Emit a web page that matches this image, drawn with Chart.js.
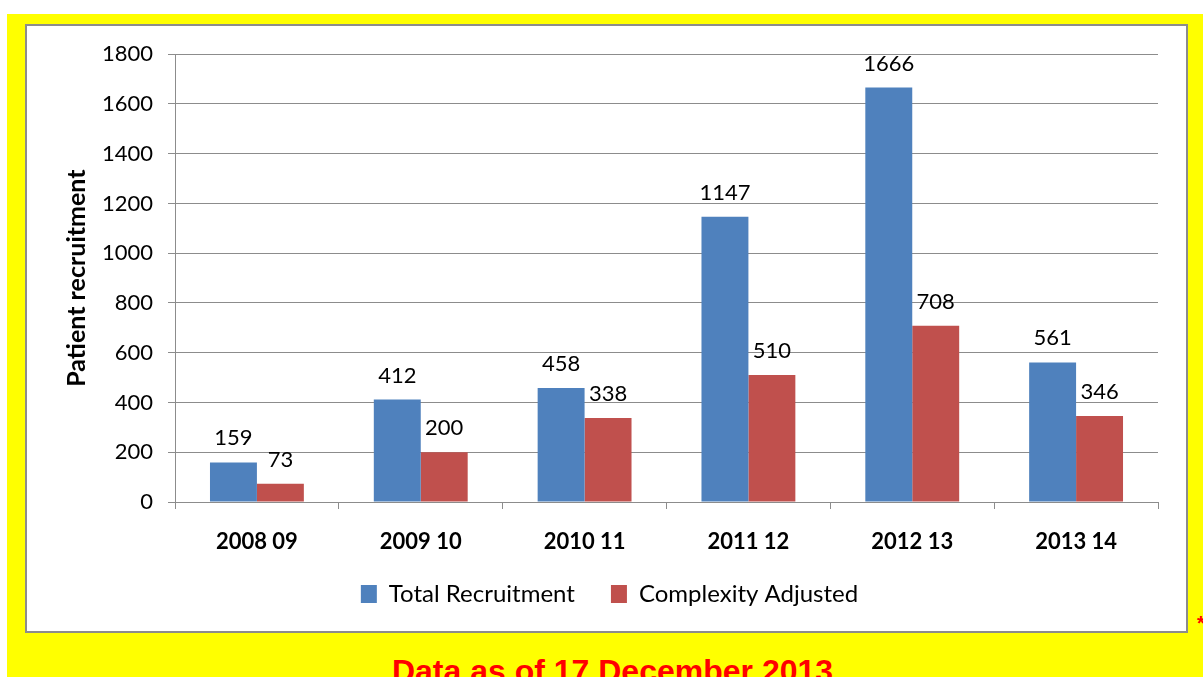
<!DOCTYPE html>
<html>
<head>
<meta charset="utf-8">
<script src="https://cdn.jsdelivr.net/npm/chart.js@4.4.0/dist/chart.umd.min.js"></script>
<style>
  html, body { margin: 0; padding: 0; background: #fff; width: 1203px; height: 677px; overflow: hidden; }
  #frame { position: absolute; left: 7px; top: 14px; width: 1196px; height: 663px; background: #ffff00; }
  #box { position: absolute; left: 25px; top: 24px; width: 1159px; height: 605px; background: #fff; border: 2px solid #8c8c8c; }
  #note { position: absolute; left: 0; width: 1225px; top: 653px; line-height: 32px; text-align: center; font: bold 32px "Liberation Sans", Arial, sans-serif; color: #ff0000; white-space: nowrap; }
  #star { position: absolute; left: 1197px; top: 612px; font: bold 20px "Liberation Sans", Arial, sans-serif; color: #ff0000; }
</style>
</head>
<body>
<div id="frame"></div>
<div id="box"><canvas id="recruitChart" width="1159" height="605"></canvas></div>
<div id="note">Data as of 17 December 2013</div>
<div id="star">*</div>
<script>
// financial years and recruitment figures
const years = ['2008 09', '2009 10', '2010 11', '2011 12', '2012 13', '2013 14'];
const totalRecruitment = [159, 412, 458, 1147, 1666, 561];
const complexityAdjusted = [73, 200, 338, 510, 708, 346];
const yTicks = [0, 200, 400, 600, 800, 1000, 1200, 1400, 1600, 1800];

const FONT = 'Lato, "Open Sans", sans-serif';

// value labels above each bar
const barValues = {
    id: 'barValues',
    afterDatasetsDraw(chart) {
        const ctx = chart.ctx;
        ctx.save();
        ctx.font = '22px ' + FONT;
        ctx.fillStyle = '#000';
        ctx.textAlign = 'center';
        ctx.textBaseline = 'alphabetic';
        chart.data.datasets.forEach((ds, i) => {
            chart.getDatasetMeta(i).data.forEach((bar, j) => {
                ctx.fillText(String(ds.data[j]), bar.x, bar.y - 17);
            });
        });
        ctx.restore();
    }
};

// move the legend a bit right and up so it sits under the middle of the box
const legendNudge = {
    id: 'legendNudge',
    afterLayout(chart) {
        const lg = chart.legend;
        lg.left += 17;
        lg.right += 17;
        lg.top -= 12;
        lg.bottom -= 12;
    }
};

const ctx1 = document.querySelector('#recruitChart').getContext('2d');

new Chart(ctx1, {
    type: 'bar',
    data: {
        labels: years,
        datasets: [{
            label: 'Total Recruitment',
            data: totalRecruitment,
            backgroundColor: '#4f81bd',
            categoryPercentage: 0.573,
            barPercentage: 1.0
        }, {
            label: 'Complexity Adjusted',
            data: complexityAdjusted,
            backgroundColor: '#c0504d',
            categoryPercentage: 0.573,
            barPercentage: 1.0
        }]
    },
    options: {
        responsive: false,
        animation: false,
        layout: { padding: { top: 26, right: 28, bottom: 3, left: 0 } },
        plugins: {
            legend: {
                position: 'bottom',
                maxHeight: 85,
                labels: {
                    font: { family: FONT, size: 24 },
                    color: '#000',
                    boxWidth: 16,
                    boxHeight: 18,
                    padding: 36
                }
            },
            tooltip: { enabled: false }
        },
        scales: {
            x: {
                grid: { offset: true, drawOnChartArea: false, color: '#8c8c8c', tickLength: 7 },
                border: { color: '#8c8c8c', width: 1 },
                ticks: { font: { family: FONT, size: 22, weight: 'bold' }, color: '#000', padding: 20 },
                afterFit: s => { s.height = 56; }
            },
            y: {
                min: 0,
                max: 1800,
                afterBuildTicks: s => { s.ticks = yTicks.map(v => ({ value: v })); },
                grid: { color: '#8c8c8c', tickLength: 7 },
                border: { color: '#8c8c8c', width: 1 },
                ticks: {
                    font: { family: FONT, size: 22 },
                    color: '#000',
                    padding: 15,
                    callback: v => String(v)
                },
                title: {
                    display: true,
                    text: 'Patient recruitment',
                    font: { family: FONT, size: 25, weight: 'bold' },
                    color: '#000',
                    padding: { top: 35, bottom: 0 }
                },
                afterFit: s => { s.width = 148; }
            }
        }
    },
    plugins: [barValues, legendNudge]
});
</script>
</body>
</html>
